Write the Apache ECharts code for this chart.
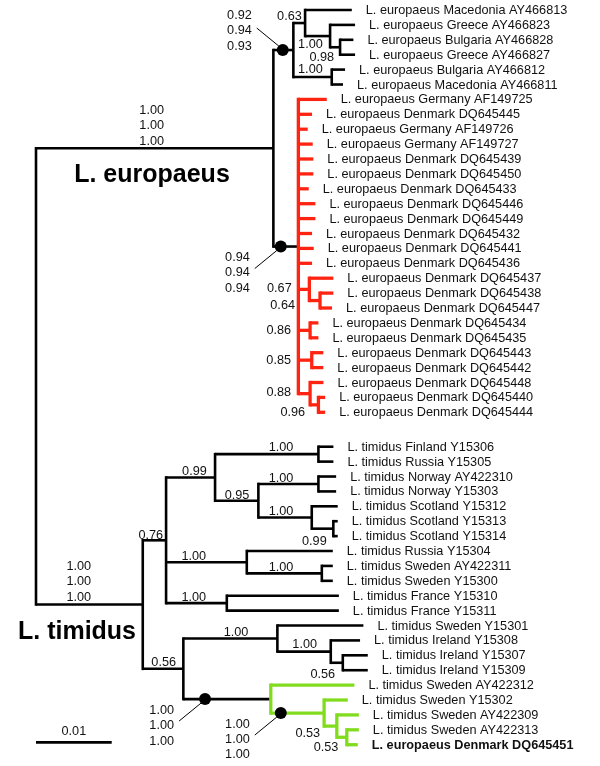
<!DOCTYPE html>
<html><head><meta charset="utf-8">
<script src="https://cdn.jsdelivr.net/npm/echarts@6/dist/echarts.min.js"></script>
<style>html,body{margin:0;padding:0;background:#fff}#c{width:600px;height:766px}</style>
</head><body><div id="c"></div>
<script>
// ---- DATA ----
// Branch lengths in substitutions/site (Newick); internal nodes are named so supports can be attached
const europaeusNewick = `(((L. europaeus Macedonia AY466813:0.00617,(L. europaeus Greece AY466823:0.00330,
(L. europaeus Bulgaria AY466828:0.00176,L. europaeus Greece AY466827:0.00198)A3:0.00132)A2:0.00330)A:0.00155,
(L. europaeus Bulgaria AY466812:0.00176,L. europaeus Macedonia AY466811:0.00149)B:0.00507)C:0.00264,
(L. europaeus Germany AF149725:0.00375,L. europaeus Denmark DQ645445:0.00181,L. europaeus Germany AF149726:0.00124,
L. europaeus Germany AF149727:0.00190,L. europaeus Denmark DQ645439:0.00198,L. europaeus Denmark DQ645450:0.00198,
L. europaeus Denmark DQ645433:0.00137,L. europaeus Denmark DQ645446:0.00225,L. europaeus Denmark DQ645449:0.00225,
L. europaeus Denmark DQ645432:0.00181,L. europaeus Denmark DQ645441:0.00203,L. europaeus Denmark DQ645436:0.00181,
(L. europaeus Denmark DQ645437:0.00317,(L. europaeus Denmark DQ645438:0.00176,L. europaeus Denmark DQ645447:0.00159)S1b:0.00141)S1:0.00145,
(L. europaeus Denmark DQ645434:0.00110,L. europaeus Denmark DQ645435:0.00110)S2:0.00155,
(L. europaeus Denmark DQ645443:0.00153,L. europaeus Denmark DQ645442:0.00153)S3:0.00177,
(L. europaeus Denmark DQ645448:0.00176,(L. europaeus Denmark DQ645440:0.00089,L. europaeus Denmark DQ645444:0.00089)S4b:0.00110)S4:0.00155
)R:0.00330)E:0.03135`;

const timidusNewick = `((((L. timidus Finland Y15306:0.00198,L. timidus Russia Y15305:0.00198)F:0.01365,
((L. timidus Norway AY422310:0.00234,L. timidus Norway Y15303:0.00234)N:0.00793,
(L. timidus Scotland Y15312:0.00343,(L. timidus Scotland Y15313:0.00058,L. timidus Scotland Y15314:0.00058)Sc2:0.00285)Sc:0.00705)T1a2:0.00572)T1a:0.00647,
(L. timidus Russia Y15304:0.01136,(L. timidus Sweden AY422311:0.00145,L. timidus Sweden Y15300:0.00145)Sw:0.00991)T1b:0.01066,
(L. timidus France Y15310:0.01480,L. timidus France Y15311:0.01480)T1c:0.00802)T1:0.00308,
((L. timidus Sweden Y15301:0.01136,(L. timidus Ireland Y15308:0.00387,(L. timidus Ireland Y15307:0.00330,L. timidus Ireland Y15309:0.00330)Ir2:0.00159)Ir:0.00705)T2a:0.01242,
(L. timidus Sweden AY422312:0.01104,(L. timidus Sweden Y15302:0.00313,(L. timidus Sweden AY422309:0.00291,
(L. timidus Sweden AY422313:0.00159,L. europaeus Denmark DQ645451:0.00145)G4:0.00132)G3:0.00168)G2:0.00704)G:0.01155)T2:0.00536)T:0.01410`;

// Posterior / bootstrap supports per internal node
const supportValues = {
  E: [1.00, 1.00, 1.00], C: [0.92, 0.94, 0.93], A: [0.63], A2: [1.00], A3: [0.98], B: [1.00],
  R: [0.94, 0.94, 0.94], S1: [0.67], S1b: [0.64], S2: [0.86], S3: [0.85], S4: [0.88], S4b: [0.96],
  T: [1.00, 1.00, 1.00], T1: [0.76], T1a: [0.99], T1a2: [0.95], F: [1.00], N: [1.00], Sc: [1.00], Sc2: [0.99],
  T1b: [1.00], Sw: [1.00], T1c: [1.00], T2: [0.56], T2a: [1.00], Ir: [1.00], Ir2: [0.56],
  G: [1.00, 1.00, 1.00], G2: [1.00, 1.00, 1.00], G3: [0.53], G4: [0.53]
};
const cladeTitles = ['L. europaeus', 'L. timidus'];
const boldLeaves = ['L. europaeus Denmark DQ645451'];
const scaleBarLength = 0.01;
const scaleBarLabel = '0.01';

// ---- STYLE / LAYOUT ----
const cladeColors = { R: '#ff2412', G: '#82dc1e' };
const BLACK = '#000';
const cladeGapRows = 2.31;
const leafLabelGap = 14;
const FONT = '"Liberation Sans", Arial, sans-serif';
const smallFont = '12.7px ' + FONT;
const TXT_SHIFT = 1.2;
const supportLayout = {
  E: { ref: 'mid', dx: -3, dy: 0.5 },
  T: { ref: 'mid', dx: -10.6, dy: 0.5 },
  C: { ref: 'dot', dot: 9.4, dy: -19.2, side: -1 },
  R: { ref: 'dot', dot: 7.4, dy: 26.3, side: 1 },
  G: { ref: 'dot', dot: 21.7, dy: 26.8, side: 1 },
  G2: { ref: 'dot', dot: 10, dy: 26.3, side: 1 },
  A: { dx: -3.3, dy: -8 }, A2: { dx: -7.3, dy: 7.2 }, A3: { dx: -6, dy: 9 }, B: { dx: -9, dy: -8.7 },
  S1: { dx: -17.6, dy: -2.1 }, S1b: { dx: -25, dy: 3.8 }, S2: { dx: -19, dy: -1 }, S3: { dx: -20.7, dy: -0.8 },
  S4: { dx: -19, dy: -2 }, S4b: { dx: -13.3, dy: 6.9 },
  T1: { dx: -3, dy: -6.3 }, T1a: { dx: -8.3, dy: -6.7 }, T1a2: { dx: -9, dy: -6.7 }, F: { dx: -25, dy: -7.5 },
  N: { dx: -25, dy: -6.7 }, Sc: { dx: -18.4, dy: -6.8 }, Sc2: { dx: -6.6, dy: 11.3 }, T1b: { dx: -40.7, dy: -6.5 },
  Sw: { dx: -28.4, dy: -7.3 }, T1c: { dx: -20.7, dy: -6.5 }, T2: { dx: -7.3, dy: -7.1 }, T2a: { dx: -29, dy: -6.8 },
  Ir: { dx: -13.7, dy: -8.3 }, Ir2: { dx: -7.7, dy: 10.5 }, G3: { dx: -16.7, dy: 6.6 }, G4: { dx: -8.4, dy: 9.5 }
};

// ---- PARSE ----
function parseNewick(src) {
  const s = src.replace(/\s*\n\s*/g, '');
  let i = 0;
  function readNode() {
    const n = { children: [] };
    if (s[i] === '(') {
      i++;
      n.children.push(readNode());
      while (s[i] === ',') { i++; n.children.push(readNode()); }
      i++;
    }
    let name = '';
    while (i < s.length && !':,();'.includes(s[i])) name += s[i++];
    n.name = name.trim();
    n.len = 0;
    if (s[i] === ':') {
      i++; let num = '';
      while (i < s.length && !',();'.includes(s[i])) num += s[i++];
      n.len = parseFloat(num);
    }
    return n;
  }
  return readNode();
}
const root = parseNewick('(' + europaeusNewick + ',' + timidusNewick + ')root;');

// ---- LAYOUT (data units) ----
let leafPos = 0;
const nodes = [];
function layout(n, parent) {
  n.parent = parent;
  n.x = (parent ? parent.x : 0) + n.len;
  n.color = cladeColors[n.name] || (parent ? parent.color : BLACK);
  nodes.push(n);
  if (!n.children.length) { n.y = leafPos; leafPos += 1; return; }
  n.children.forEach((c, k) => {
    if (!parent && k > 0) leafPos += cladeGapRows - 1;
    layout(c, n);
  });
  n.y = (n.children[0].y + n.children[n.children.length - 1].y) / 2;
}
layout(root, null);

// ---- ELEMENTS ----
const elements = [];
const widthFor = c => (c === BLACK ? 2.6 : 3.3);
nodes.forEach(n => {
  if (n.parent) elements.push({ kind: 'seg', x1: n.parent.x, y1: n.y, x2: n.x, y2: n.y, color: n.parent.color, w: widthFor(n.parent.color), cap: 'butt' });
});
nodes.forEach(n => {
  if (n.children.length) {
    const f = n.children[0], l = n.children[n.children.length - 1];
    elements.push({ kind: 'seg', x1: n.x, y1: f.y, x2: n.x, y2: l.y, color: n.color, w: widthFor(n.color), cap: 'square' });
  }
});
nodes.forEach(n => {
  if (!n.children.length) elements.push({ kind: 'leaf', x1: n.x, y1: n.y, text: n.name, bold: boldLeaves.includes(n.name) });
});
nodes.forEach(n => {
  const sv = supportValues[n.name];
  if (!sv) return;
  elements.push({ kind: 'support', node: n, text: sv.map(v => v.toFixed(2)).join('\n'), lay: supportLayout[n.name] || { dx: -6, dy: -8 } });
});
elements.push({ kind: 'scale', x1: 0, y1: 49.15 });

function renderItem(params, api) {
  const e = elements[params.dataIndex];
  if (e.kind === 'seg') {
    const p1 = api.coord([e.x1, e.y1]), p2 = api.coord([e.x2, e.y2]);
    return { type: 'line', shape: { x1: p1[0], y1: p1[1], x2: p2[0], y2: p2[1] }, style: { stroke: e.color, lineWidth: e.w, lineCap: e.cap } };
  }
  if (e.kind === 'leaf') {
    const p = api.coord([e.x1, e.y1]);
    return { type: 'text', x: p[0] + leafLabelGap, y: p[1] + 0.5, style: { text: e.text, font: (e.bold ? 'bold ' : '') + smallFont, fill: '#111', align: 'left', verticalAlign: 'middle' } };
  }
  if (e.kind === 'support') {
    const n = e.node, L = e.lay;
    const np = api.coord([n.x, n.y]);
    const pp = api.coord([n.parent.x, n.y]);
    if (L.ref === 'mid') {
      return { type: 'text', x: (np[0] + pp[0]) / 2 + L.dx, y: np[1] + L.dy, style: { text: e.text, font: smallFont, fill: '#111', align: 'center', verticalAlign: 'bottom', lineHeight: 15.5 } };
    }
    if (L.ref === 'dot') {
      const dx = pp[0] + L.dot, dy = np[1];
      return { type: 'group', children: [
        { type: 'line', shape: { x1: dx - 26, y1: dy + L.side * 22, x2: dx - 4, y2: dy + L.side * 4 }, style: { stroke: '#000', lineWidth: 1 } },
        { type: 'circle', shape: { cx: dx, cy: dy, r: 6 }, style: { fill: '#000' } },
        { type: 'text', x: dx - 31, y: dy + L.dy, style: { text: e.text, font: smallFont, fill: '#111', align: 'right', verticalAlign: 'middle', lineHeight: 15.3 } }
      ] };
    }
    return { type: 'text', x: np[0] + L.dx, y: np[1] + L.dy + TXT_SHIFT, style: { text: e.text, font: smallFont, fill: '#111', align: 'right', verticalAlign: 'middle' } };
  }
  if (e.kind === 'scale') {
    const p1 = api.coord([0, e.y1]), p2 = api.coord([scaleBarLength, e.y1]);
    return { type: 'group', children: [
      { type: 'line', shape: { x1: p1[0], y1: p1[1], x2: p2[0], y2: p2[1] }, style: { stroke: '#000', lineWidth: 2.6 } },
      { type: 'text', x: (p1[0] + p2[0]) / 2, y: p1[1] - 11, style: { text: scaleBarLabel, font: smallFont, fill: '#111', align: 'center', verticalAlign: 'middle' } }
    ] };
  }
  return null;
}

const chart = echarts.init(document.getElementById('c'), null, { renderer: 'canvas' });
chart.setOption({
  animation: false,
  backgroundColor: '#fff',
  grid: { left: 36, top: 10, width: 530, height: 745 },
  xAxis: { type: 'value', min: 0, max: 0.07, show: false },
  yAxis: { type: 'value', min: 0, max: 50, inverse: true, show: false },
  graphic: [
    { type: 'text', x: 152, y: 175, style: { text: cladeTitles[0], font: 'bold 25px ' + FONT, fill: '#000', align: 'center', verticalAlign: 'middle' } },
    { type: 'text', x: 77, y: 632, style: { text: cladeTitles[1], font: 'bold 25px ' + FONT, fill: '#000', align: 'center', verticalAlign: 'middle' } }
  ],
  series: [{
    type: 'custom',
    coordinateSystem: 'cartesian2d',
    renderItem: renderItem,
    data: elements.map(e => [e.x1 || 0, e.y1 || 0]),
    silent: true
  }]
});
</script></body></html>
